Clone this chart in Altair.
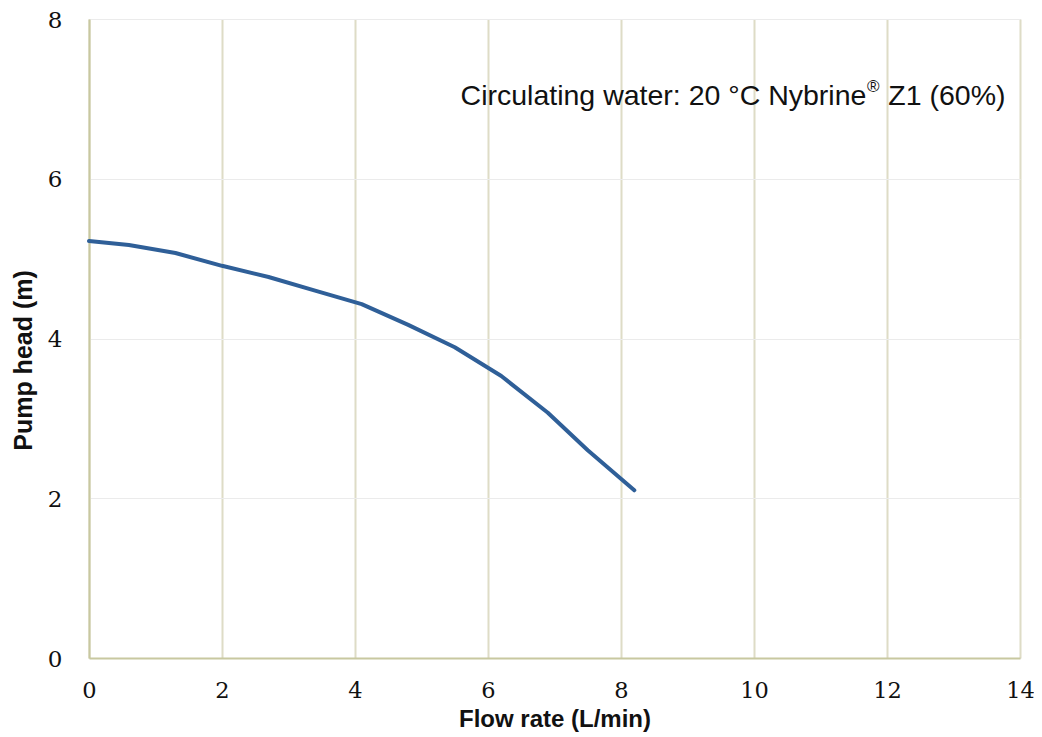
import altair as alt
import pandas as pd

flow = [0.0, 0.6, 1.3, 2.0, 2.7, 3.4, 4.1, 4.8, 5.5, 6.2, 6.9, 7.5, 8.2]
head = [5.22, 5.17, 5.07, 4.91, 4.77, 4.60, 4.43, 4.17, 3.89, 3.53, 3.07, 2.60, 2.10]

x_ticks = [0, 2, 4, 6, 8, 10, 12, 14]
y_ticks = [0, 2, 4, 6, 8]

note_main = "Circulating water: 20 °C Nybrine"
note_reg = "®"
note_tail = "Z1 (60%)"

df = pd.DataFrame({"flow": flow, "head": head})

xs = alt.Scale(domain=[0, 14], nice=False, zero=True)
ys = alt.Scale(domain=[0, 8], nice=False)

line = alt.Chart(df).mark_line(color="#2f5f98", strokeWidth=4, strokeCap="round", strokeJoin="round").encode(
    x=alt.X("flow:Q", scale=xs, axis=alt.Axis(
        title="Flow rate (L/min)", values=x_ticks, format="d", ticks=False, grid=True,
        labelFlush=False, labelOverlap=False,
        gridColor="#dedcc6", gridWidth=2, domainColor="#c8c8a0", domainWidth=2,
        labelFont="DejaVu Serif", labelFontSize=22.5, labelColor="#111111", labelPadding=21,
        titleFont="Liberation Sans", titleFontSize=24, titleFontWeight="bold", titleColor="#111111",
        titlePadding=6)),
    y=alt.Y("head:Q", scale=ys, axis=alt.Axis(
        title="Pump head (m)", values=y_ticks, format="d", ticks=False, grid=True,
        labelFlush=False, labelOverlap=False,
        gridColor="#ebebeb", gridWidth=1, domainColor="#c8c8a0", domainWidth=2,
        labelFont="DejaVu Serif", labelFontSize=23, labelColor="#111111", labelPadding=27,
        labelOffset=1,
        titleFont="Liberation Sans", titleFontSize=25, titleFontWeight="bold", titleColor="#111111",
        titleX=-66, titleY=341, titleAngle=270, titleAlign="center", titleBaseline="middle")),
)

ann = pd.DataFrame({
    "x": [11.69, 11.70, 12.02],
    "y": [7.04, 7.04, 7.04],
    "t": [note_main, note_reg, note_tail],
})

t1 = alt.Chart(ann.iloc[[0]]).mark_text(align="right", baseline="middle", font="Liberation Sans",
                                          fontSize=28.5, color="#111111").encode(
    x=alt.X("x:Q", scale=xs), y=alt.Y("y:Q", scale=ys), text="t:N")
t2 = alt.Chart(ann.iloc[[1]]).mark_text(align="left", baseline="middle", font="Liberation Sans",
                                          fontSize=17, color="#111111", dy=-9).encode(
    x=alt.X("x:Q", scale=xs), y=alt.Y("y:Q", scale=ys), text="t:N")
t3 = alt.Chart(ann.iloc[[2]]).mark_text(align="left", baseline="middle", font="Liberation Sans",
                                          fontSize=28.5, color="#111111").encode(
    x=alt.X("x:Q", scale=xs), y=alt.Y("y:Q", scale=ys), text="t:N")

chart = alt.layer(line, t1, t2, t3).properties(
    width=931, height=639,
    autosize=alt.AutoSizeParams(type="none"),
    padding={"left": 81, "top": 11, "right": 14, "bottom": 79},
).configure_view(stroke="#c8c8a0", strokeWidth=2).configure(background="white")

chart.save("out.html", embed_options={"renderer": "svg", "actions": False})
